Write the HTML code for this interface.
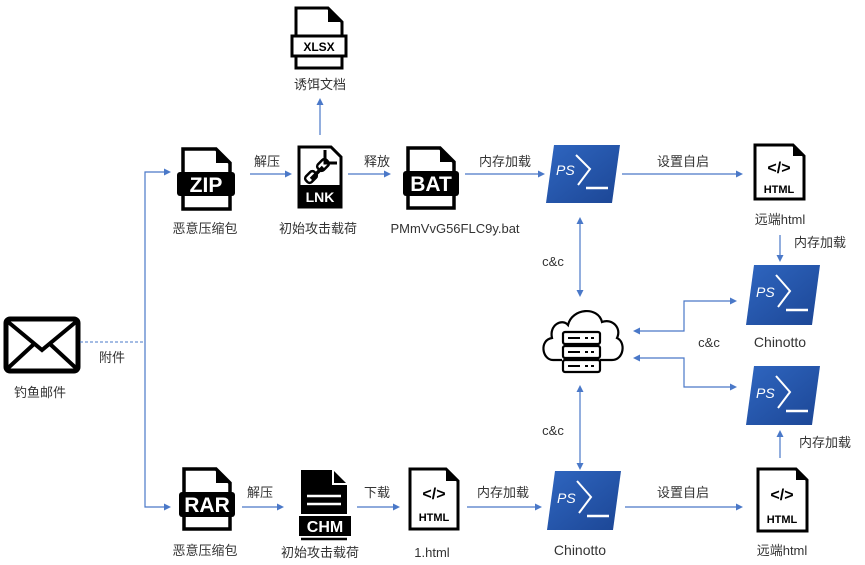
<!DOCTYPE html>
<html><head><meta charset="utf-8"><style>
html,body{margin:0;padding:0;background:#fff;}
svg{display:block;}
text{font-family:"Liberation Sans","Noto Sans CJK SC",sans-serif;}
.l{font-size:13px;fill:#333;text-anchor:middle;}
.a{stroke:#4a78c8;stroke-width:1.2;fill:none;}
.h{fill:#4a78c8;}
</style></head><body>
<svg width="865" height="565" viewBox="0 0 865 565" xmlns="http://www.w3.org/2000/svg">
<defs>
<linearGradient id="g" x1="0" y1="0" x2="1" y2="1"><stop offset="0" stop-color="#2f66c0"/><stop offset="1" stop-color="#1c4695"/></linearGradient>
</defs>

<!-- mail -->
<rect x="6" y="319" width="72" height="52" rx="4" fill="#fff" stroke="#000" stroke-width="5"/>
<path d="M7,321 L42,350 L77,321 M7,369 L34,344 M77,369 L50,344" stroke="#000" stroke-width="4" fill="none"/>
<text class="l" x="40" y="397">钓鱼邮件</text>
<line x1="80" y1="342" x2="145" y2="342" stroke="#4a78c8" stroke-width="1" stroke-dasharray="3,2"/>
<text class="l" x="112" y="362">附件</text>
<path class="a" d="M165,172 H145 V507 H165"/>
<polygon class="h" points="171,172 164,168.5 164,175.5"/>
<polygon class="h" points="171,507 164,503.5 164,510.5"/>

<!-- ZIP -->
<g transform="translate(180,147)">
<path d="M3,2 H36 L50,16 V62 H3 Z" fill="#fff" stroke="#000" stroke-width="3.5"/><path d="M36,2 V16 H50 Z" fill="#000"/>
<rect x="-3" y="25" width="58" height="24" rx="3" fill="#000"/>
<text x="26" y="45" font-size="21" font-weight="bold" fill="#fff" text-anchor="middle">ZIP</text>
</g>
<text class="l" x="205" y="233">恶意压缩包</text>
<text class="l" x="267" y="166">解压</text>
<path class="a" d="M250,174 H286"/><polygon class="h" points="292,174 285,170.5 285,177.5"/>

<!-- LNK -->
<g transform="translate(297,145)">
<path d="M2,2 H34 L44,12 V62 H2 Z" fill="#fff" stroke="#000" stroke-width="3"/>
<path d="M28,5 V18 H40" fill="none" stroke="#000" stroke-width="3"/>
<rect x="2" y="40" width="42" height="22" fill="#000"/>
<text x="23" y="57" font-size="14" font-weight="bold" fill="#fff" text-anchor="middle">LNK</text>
<path d="M14,34 l8,-8 M18,30 l8,-8" stroke="#000" stroke-width="3.5" fill="none"/>
<rect x="10" y="26" width="8" height="12" rx="3" transform="rotate(45 14 32)" fill="none" stroke="#000" stroke-width="2.5"/>
<rect x="22" y="14" width="8" height="12" rx="3" transform="rotate(45 26 20)" fill="none" stroke="#000" stroke-width="2.5"/>
</g>
<text class="l" x="318" y="233">初始攻击载荷</text>
<path class="a" d="M320,135 V104"/><polygon class="h" points="320,98 316.5,105 323.5,105"/>

<!-- XLSX -->
<g transform="translate(294,6)">
<path d="M2,2 H34 L48,16 V62 H2 Z" fill="#fff" stroke="#000" stroke-width="3"/><path d="M34,2 V16 H48 Z" fill="#000"/>
<rect x="-2" y="30" width="54" height="20" fill="#fff" stroke="#000" stroke-width="3"/>
<text x="25" y="45" font-size="12" font-weight="bold" fill="#000" text-anchor="middle">XLSX</text>
</g>
<text class="l" x="320" y="89">诱饵文档</text>
<text class="l" x="377" y="166">释放</text>
<path class="a" d="M348,174 H385"/><polygon class="h" points="391,174 384,170.5 384,177.5"/>

<!-- BAT -->
<g transform="translate(404,146)">
<path d="M4,2 H36 L50,16 V62 H4 Z" fill="#fff" stroke="#000" stroke-width="3.5"/><path d="M36,2 V16 H50 Z" fill="#000"/>
<rect x="-1" y="25" width="56" height="25" rx="3" fill="#000"/>
<text x="27" y="45" font-size="21" font-weight="bold" fill="#fff" text-anchor="middle">BAT</text>
</g>
<text class="l" x="455" y="233">PMmVvG56FLC9y.bat</text>
<text class="l" x="505" y="166">内存加载</text>
<path class="a" d="M465,174 H539"/><polygon class="h" points="545,174 538,170.5 538,177.5"/>

<!-- PS1 -->
<g transform="translate(546,145)">
<polygon points="8,0 74,0 66,58 0,58" fill="url(#g)"/>
<text x="10" y="30" font-size="14" font-style="italic" fill="#fff">PS</text>
<polyline points="30,10 44,24 32,40" fill="none" stroke="#fff" stroke-width="2"/>
<line x1="40" y1="43" x2="62" y2="43" stroke="#fff" stroke-width="2.5"/>
</g>
<text class="l" x="683" y="166">设置自启</text>
<path class="a" d="M622,174 H737"/><polygon class="h" points="743,174 736,170.5 736,177.5"/>

<!-- HTML top right -->
<g transform="translate(753,143)">
<path d="M2,2 H40 L51,13 V56 H2 Z" fill="#fff" stroke="#000" stroke-width="3"/><path d="M40,2 V13 H51 Z" fill="#000"/>
<text x="26" y="30" font-size="16" font-weight="bold" fill="#000" text-anchor="middle">&lt;/&gt;</text>
<text x="26" y="50" font-size="11" font-weight="bold" fill="#000" text-anchor="middle">HTML</text>
</g>
<text class="l" x="780" y="224">远端html</text>
<path class="a" d="M780,235 V256"/><polygon class="h" points="780,262 776.5,255 783.5,255"/>
<text class="l" x="820" y="247">内存加载</text>

<!-- PS2 -->
<g transform="translate(746,265)">
<polygon points="8,0 74,0 66,60 0,60" fill="url(#g)"/>
<text x="10" y="32" font-size="14" font-style="italic" fill="#fff">PS</text>
<polyline points="30,10 44,26 32,42" fill="none" stroke="#fff" stroke-width="2"/>
<line x1="40" y1="45" x2="62" y2="45" stroke="#fff" stroke-width="2.5"/>
</g>
<text class="l" x="780" y="347" style="font-size:14px">Chinotto</text>

<!-- cloud -->
<g fill="none" stroke="#000" stroke-width="2.2">
<path d="M562,360 H553 C542,360 539,340 552,338 C549,325 562,318 568,325 C572,308 598,306 602,322 C612,318 622,328 617,338 C626,342 624,360 612,360 H600"/>
<rect x="563" y="332" width="37" height="12" rx="2"/>
<rect x="563" y="346" width="37" height="12" rx="2"/>
<rect x="563" y="360" width="37" height="12" rx="2"/>
<path d="M568,338 H580 M585,338 H588 M591,338 H594 M568,352 H580 M585,352 H588 M591,352 H594 M568,366 H580 M585,366 H588 M591,366 H594" stroke-width="2"/>
</g>

<path class="a" d="M580,224 V290"/><polygon class="h" points="580,217 576.5,224 583.5,224"/><polygon class="h" points="580,297 576.5,290 583.5,290"/>
<text class="l" x="553" y="266">c&amp;c</text>
<path class="a" d="M640,331 H684 V301 H730"/><polygon class="h" points="633,331 640,327.5 640,334.5"/><polygon class="h" points="737,301 730,297.5 730,304.5"/>
<path class="a" d="M640,358 H684 V387 H730"/><polygon class="h" points="633,358 640,354.5 640,361.5"/><polygon class="h" points="737,387 730,383.5 730,390.5"/>
<text class="l" x="709" y="347">c&amp;c</text>

<!-- PS3 -->
<g transform="translate(746,366)">
<polygon points="8,0 74,0 66,59 0,59" fill="url(#g)"/>
<text x="10" y="32" font-size="14" font-style="italic" fill="#fff">PS</text>
<polyline points="30,10 44,26 32,42" fill="none" stroke="#fff" stroke-width="2"/>
<line x1="40" y1="45" x2="62" y2="45" stroke="#fff" stroke-width="2.5"/>
</g>
<path class="a" d="M780,436 V458"/><polygon class="h" points="780,430 776.5,437 783.5,437"/>
<text class="l" x="825" y="447">内存加载</text>

<path class="a" d="M580,392 V463"/><polygon class="h" points="580,385 576.5,392 583.5,392"/><polygon class="h" points="580,470 576.5,463 583.5,463"/>
<text class="l" x="553" y="435">c&amp;c</text>

<!-- RAR -->
<g transform="translate(180,467)">
<path d="M4,2 H36 L50,16 V62 H4 Z" fill="#fff" stroke="#000" stroke-width="3.5"/><path d="M36,2 V16 H50 Z" fill="#000"/>
<rect x="-1" y="25" width="56" height="25" rx="3" fill="#000"/>
<text x="27" y="45" font-size="21" font-weight="bold" fill="#fff" text-anchor="middle">RAR</text>
</g>
<text class="l" x="205" y="555">恶意压缩包</text>
<text class="l" x="260" y="497">解压</text>
<path class="a" d="M242,507 H278"/><polygon class="h" points="284,507 277,503.5 277,510.5"/>

<!-- CHM -->
<g transform="translate(299,469)">
<path d="M2,1 H34 L48,15 V45 H2 Z" fill="#000"/>
<path d="M34,1 V15 H48" fill="none" stroke="#fff" stroke-width="2"/>
<line x1="8" y1="27" x2="42" y2="27" stroke="#fff" stroke-width="2.5"/>
<line x1="8" y1="35" x2="42" y2="35" stroke="#fff" stroke-width="2.5"/>
<rect x="0" y="47" width="52" height="20" fill="#000"/>
<text x="26" y="63" font-size="16" font-weight="bold" fill="#fff" text-anchor="middle">CHM</text>
<line x1="2" y1="70" x2="48" y2="70" stroke="#000" stroke-width="2.5"/>
</g>
<text class="l" x="320" y="557">初始攻击载荷</text>
<text class="l" x="377" y="497">下载</text>
<path class="a" d="M357,507 H394"/><polygon class="h" points="400,507 393,503.5 393,510.5"/>

<!-- HTML 1 -->
<g transform="translate(408,467)">
<path d="M2,2 H38 L50,14 V62 H2 Z" fill="#fff" stroke="#000" stroke-width="3"/><path d="M38,2 V14 H50 Z" fill="#000"/>
<text x="26" y="32" font-size="16" font-weight="bold" fill="#000" text-anchor="middle">&lt;/&gt;</text>
<text x="26" y="54" font-size="11" font-weight="bold" fill="#000" text-anchor="middle">HTML</text>
</g>
<text class="l" x="432" y="557">1.html</text>
<text class="l" x="503" y="497">内存加载</text>
<path class="a" d="M467,507 H536"/><polygon class="h" points="542,507 535,503.5 535,510.5"/>

<!-- PS4 -->
<g transform="translate(547,471)">
<polygon points="8,0 74,0 66,59 0,59" fill="url(#g)"/>
<text x="10" y="32" font-size="14" font-style="italic" fill="#fff">PS</text>
<polyline points="30,10 44,26 32,42" fill="none" stroke="#fff" stroke-width="2"/>
<line x1="40" y1="45" x2="62" y2="45" stroke="#fff" stroke-width="2.5"/>
</g>
<text class="l" x="580" y="555" style="font-size:14px">Chinotto</text>
<text class="l" x="683" y="497">设置自启</text>
<path class="a" d="M625,507 H737"/><polygon class="h" points="743,507 736,503.5 736,510.5"/>

<!-- HTML bottom right -->
<g transform="translate(756,467)">
<path d="M2,2 H40 L51,13 V64 H2 Z" fill="#fff" stroke="#000" stroke-width="3"/><path d="M40,2 V13 H51 Z" fill="#000"/>
<text x="26" y="33" font-size="16" font-weight="bold" fill="#000" text-anchor="middle">&lt;/&gt;</text>
<text x="26" y="56" font-size="11" font-weight="bold" fill="#000" text-anchor="middle">HTML</text>
</g>
<text class="l" x="782" y="555">远端html</text>
</svg>
</body></html>
